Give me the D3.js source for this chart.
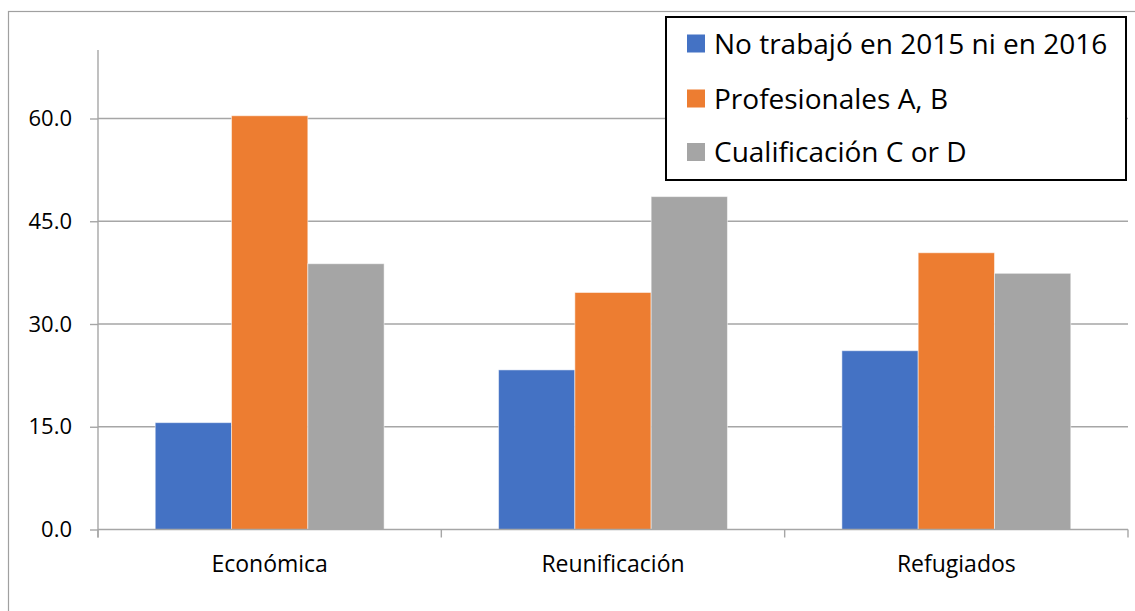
<!DOCTYPE html>
<html>
<head>
<meta charset="utf-8">
<script src="https://cdn.jsdelivr.net/npm/d3@7"></script>
<style>
  html, body { margin: 0; padding: 0; background: #fff; }
  svg { display: block; font-family: "Open Sans", "Noto Sans", sans-serif; }
</style>
</head>
<body>
<svg id="chart" width="1135" height="611"></svg>
<script>
// Grouped bars: share (%) per admission category
const categories = ["Económica", "Reunificación", "Refugiados"];
const seriesNames = ["No trabajó en 2015 ni en 2016", "Profesionales A, B", "Cualificación C or D"];
const noTrabajo = [15.6, 23.3, 26.1];
const profesionales = [60.4, 34.6, 40.4];
const cualificacion = [38.8, 48.6, 37.4];
const yTicks = [0, 15, 30, 45, 60];
const colors = ["#4472c4", "#ed7d31", "#a5a5a5"];

const series = [noTrabajo, profesionales, cualificacion];

const svg = d3.select("#chart");
const plot = { left: 98, right: 1128, top: 50, bottom: 529.5 };

// outer chart frame
svg.append("rect")
  .attr("x", 8.5).attr("y", 11.5)
  .attr("width", 1140).attr("height", 620)
  .attr("fill", "none").attr("stroke", "#a0a0a0").attr("stroke-width", 1.2);

const x0 = d3.scaleBand()
  .domain(categories)
  .range([plot.left, plot.right])
  .paddingInner(1 / 3)
  .paddingOuter(1 / 6);

const x1 = d3.scaleBand()
  .domain(d3.range(series.length))
  .range([0, x0.bandwidth()]);

const y = d3.scaleLinear().domain([0, 70]).range([plot.bottom, plot.top]);

// horizontal gridlines
svg.append("g")
  .selectAll("line")
  .data(yTicks.filter(d => d > 0))
  .join("line")
  .attr("x1", plot.left).attr("x2", plot.right)
  .attr("y1", d => y(d)).attr("y2", d => y(d))
  .attr("stroke", "#a6a6a6").attr("stroke-width", 1.4);

// y axis
const yAxis = svg.append("g")
  .attr("transform", `translate(${plot.left},0)`)
  .call(d3.axisLeft(y).tickValues(yTicks).tickFormat(d3.format(".1f")).tickSize(8).tickPadding(18));
yAxis.select(".domain").remove();
yAxis.append("line")
  .attr("x1", 0).attr("x2", 0)
  .attr("y1", plot.top).attr("y2", plot.bottom + 8)
  .attr("stroke", "#a6a6a6").attr("stroke-width", 1.4);
yAxis.selectAll(".tick line").attr("stroke", "#a6a6a6").attr("stroke-width", 1.4);
yAxis.selectAll(".tick text")
  .attr("fill", "#000").attr("font-size", 22)
  .attr("font-family", "'Open Sans', sans-serif");

// bars
const groups = svg.append("g")
  .selectAll("g")
  .data(categories)
  .join("g")
  .attr("transform", d => `translate(${x0(d)},0)`);

groups.selectAll("rect")
  .data((c, i) => series.map((s, k) => ({ k, v: s[i] })))
  .join("rect")
  .attr("x", d => x1(d.k))
  .attr("width", x1.bandwidth())
  .attr("y", d => y(d.v))
  .attr("height", d => y(0) - y(d.v))
  .attr("fill", d => colors[d.k])
  .attr("stroke", "#ffffff").attr("stroke-opacity", 0.5).attr("stroke-width", 1);

// x axis baseline and category dividers
const xAxis = svg.append("g");
xAxis.append("line")
  .attr("x1", plot.left).attr("x2", plot.right)
  .attr("y1", y(0)).attr("y2", y(0))
  .attr("stroke", "#a6a6a6").attr("stroke-width", 1.4);
const step = x0.step();
const dividers = categories.map((c, i) => x0(c) - x0.paddingOuter() * step).concat([plot.right]);
xAxis.selectAll("line.div")
  .data(dividers)
  .join("line")
  .attr("class", "div")
  .attr("x1", d => d).attr("x2", d => d)
  .attr("y1", y(0)).attr("y2", y(0) + 8)
  .attr("stroke", "#a6a6a6").attr("stroke-width", 1.4);
xAxis.selectAll("text")
  .data(categories)
  .join("text")
  .attr("x", d => x0(d) + x0.bandwidth() / 2)
  .attr("y", 572)
  .attr("text-anchor", "middle")
  .attr("font-size", 23)
  .attr("fill", "#000")
  .text(d => d);

// legend
const legend = svg.append("g");
legend.append("rect")
  .attr("x", 666).attr("y", 17)
  .attr("width", 460).attr("height", 163)
  .attr("fill", "#fff").attr("stroke", "#000").attr("stroke-width", 2);
const rowY = [43.5, 98.5, 152];
const items = legend.selectAll("g.item")
  .data(seriesNames)
  .join("g")
  .attr("class", "item")
  .attr("transform", (d, i) => `translate(687,${rowY[i]})`);
items.append("rect")
  .attr("x", 0).attr("y", -9)
  .attr("width", 18).attr("height", 18)
  .attr("fill", (d, i) => colors[i]);
items.append("text")
  .attr("x", 27).attr("y", 0)
  .attr("dy", "0.36em")
  .attr("font-size", 28)
  .attr("fill", "#000")
  .text(d => d);
</script>
</body>
</html>
